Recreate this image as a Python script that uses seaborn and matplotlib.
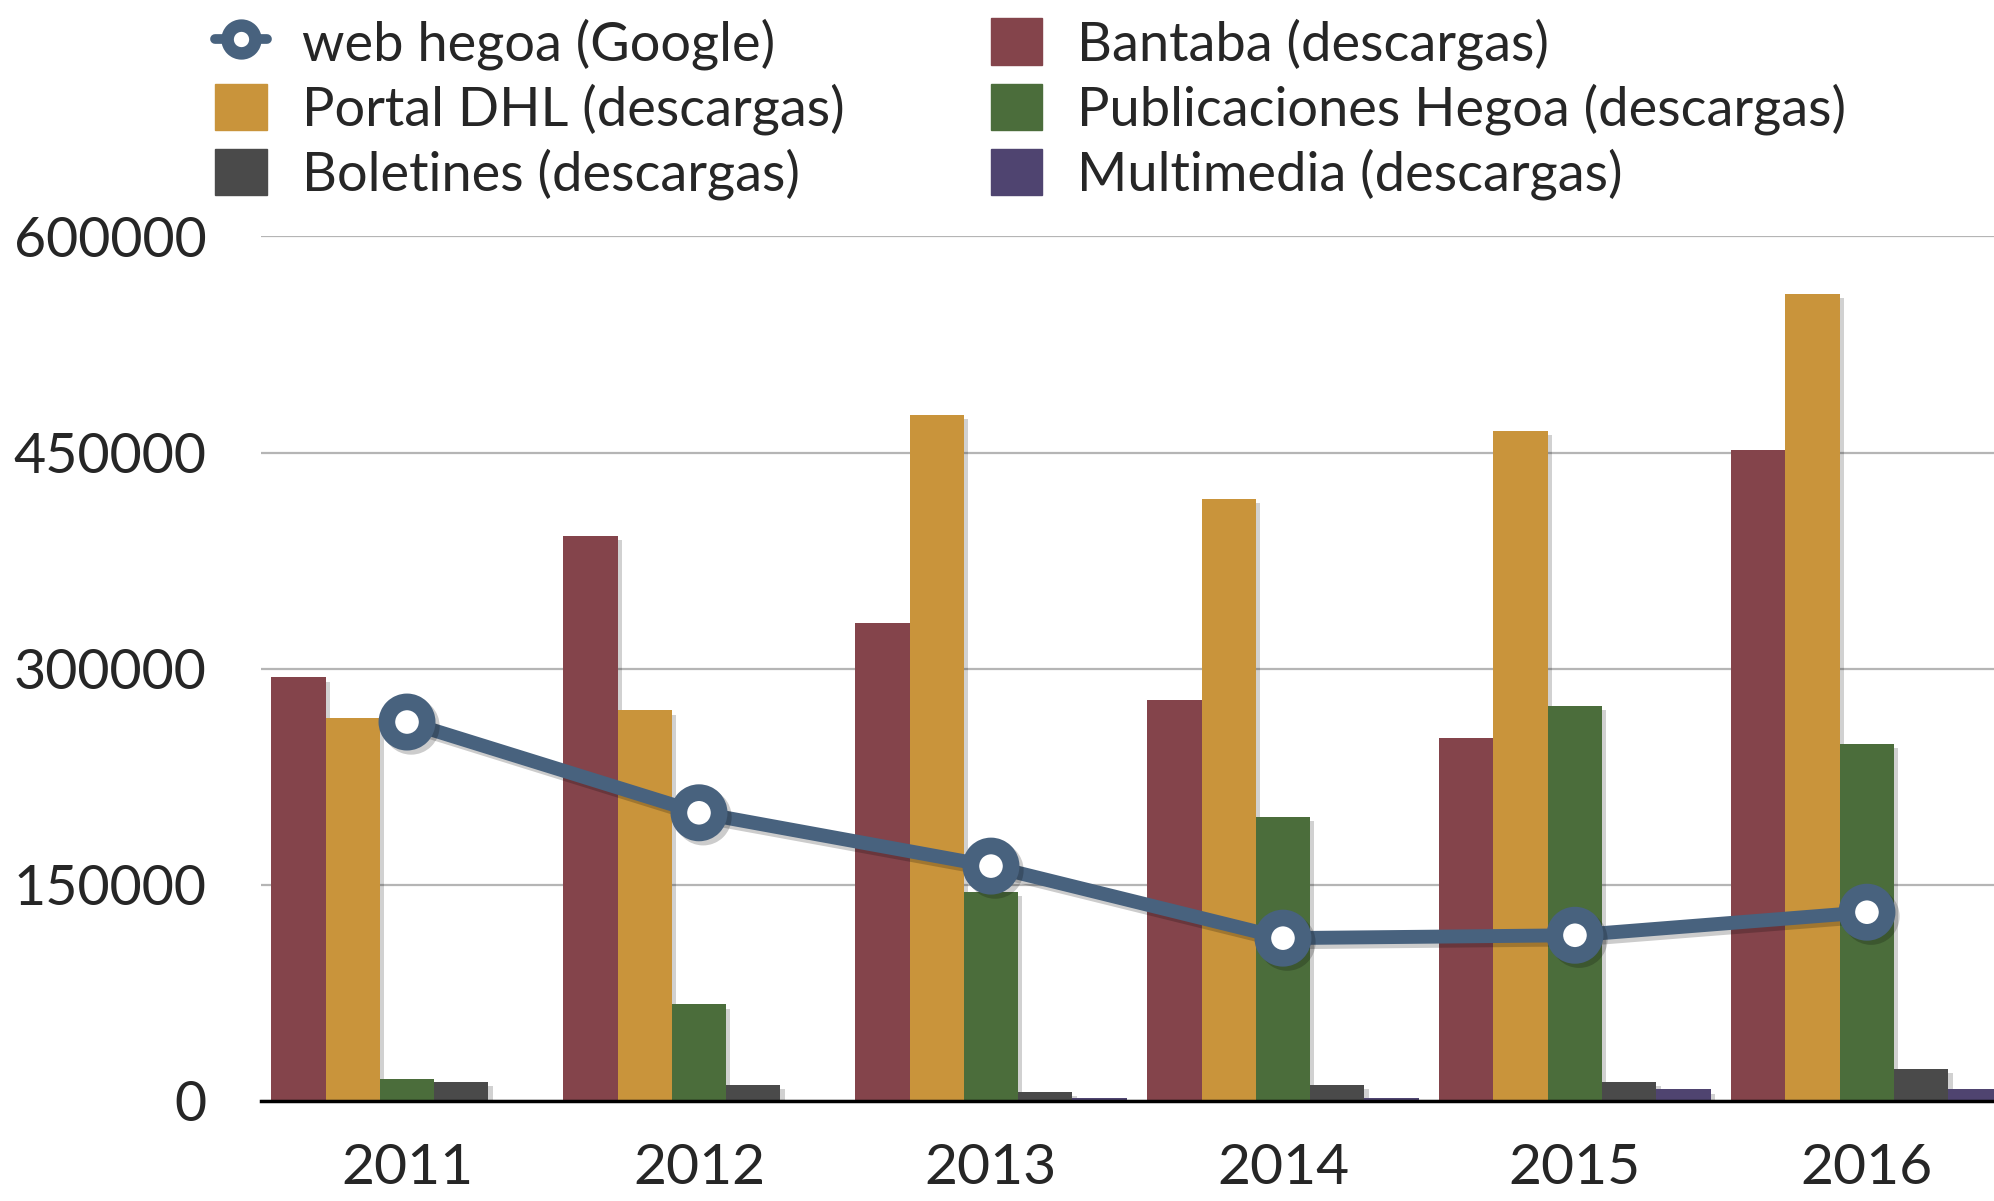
import pandas as pd
import numpy as np
import matplotlib
matplotlib.use('Agg')
import matplotlib.pyplot as plt
import matplotlib.patheffects as pe
from matplotlib.lines import Line2D
from matplotlib.patches import Patch
import seaborn as sns

years = ['2011', '2012', '2013', '2014', '2015', '2016']
bantaba = [294000, 392000, 332000, 278000, 252000, 452000]
portal_dhl = [266000, 271000, 476000, 418000, 465000, 560000]
publicaciones = [15000, 67000, 145000, 197000, 274000, 248000]
boletines = [13000, 11000, 6000, 11000, 13000, 22000]
multimedia = [0, 0, 2000, 2000, 8000, 8000]
web_hegoa = [263000, 200000, 163000, 113000, 115000, 131000]

series = ['Bantaba (descargas)', 'Portal DHL (descargas)', 'Publicaciones Hegoa (descargas)',
          'Boletines (descargas)', 'Multimedia (descargas)']
colores = ['#84444b', '#c9943b', '#4b6d3b', '#4a4a4a', '#4f4470']
color_linea = '#48627e'

df = pd.DataFrame({'year': years * 5,
                   'serie': np.repeat(series, len(years)),
                   'valor': bantaba + portal_dhl + publicaciones + boletines + multimedia})
df_web = pd.DataFrame({'year': years, 'valor': web_hegoa})

sns.set_style('white')
plt.rcParams['font.family'] = ['Lato', 'DejaVu Sans']

fig = plt.figure(figsize=(19.94, 12.01), dpi=100)
ax = fig.add_axes([0.1309, 0.0833, 0.8786, 0.7198])

sns.barplot(data=df, x='year', y='valor', hue='serie', hue_order=series, order=years,
            palette=colores, width=0.93, saturation=1, ax=ax, legend=False, zorder=3)
sombra = [pe.SimplePatchShadow(offset=(3, -3), shadow_rgbFace='#000000', alpha=0.18), pe.Normal()]
for p in ax.patches:
    p.set_path_effects(sombra)
    p.set_edgecolor('none')

sns.pointplot(data=df_web, x='year', y='valor', order=years, color=color_linea, ax=ax,
              markers='o', linewidth=10, markersize=29, markeredgewidth=12,
              markerfacecolor='white', markeredgecolor=color_linea, zorder=5,
              errorbar=None)
for ln in ax.lines:
    ln.set_path_effects([pe.SimpleLineShadow(offset=(3, -3), alpha=0.2), pe.Normal()])

ax.set_xlim(-0.5, 5.5)
ax.set_ylim(0, 600000)
ax.set_yticks([0, 150000, 300000, 450000, 600000])
ax.set_yticklabels(['0', '150000', '300000', '450000', '600000'])
ax.yaxis.grid(True, color='#b5b5b5', linewidth=1.6, zorder=0)
ax.set_axisbelow(True)
for s in ['left', 'right', 'top']:
    ax.spines[s].set_visible(False)
ax.spines['bottom'].set_color('black')
ax.spines['bottom'].set_linewidth(2.5)
ax.spines['bottom'].set_zorder(6)
ax.tick_params(axis='y', length=0, pad=39, labelsize=40)
ax.tick_params(axis='x', length=0, pad=30, labelsize=41)
ax.set_xlabel('')
ax.set_ylabel('')

handles = [Line2D([], [], color=color_linea, linewidth=7, marker='o', markersize=20,
                  markeredgewidth=9, markerfacecolor='white', markeredgecolor=color_linea),
           Patch(color=colores[1]), Patch(color=colores[3]),
           Patch(color=colores[0]), Patch(color=colores[2]), Patch(color=colores[4])]
labels = ['web hegoa (Google)', series[1], series[3], series[0], series[2], series[4]]
fig.legend(handles, labels, ncol=2, loc='upper left', bbox_to_anchor=(0.097, 1.003),
           frameon=False, fontsize=39, handlelength=0.95, handleheight=0.95,
           handletextpad=0.65, columnspacing=2.7, labelspacing=0.25, borderaxespad=0)

fig.savefig('out.png', dpi=100)
